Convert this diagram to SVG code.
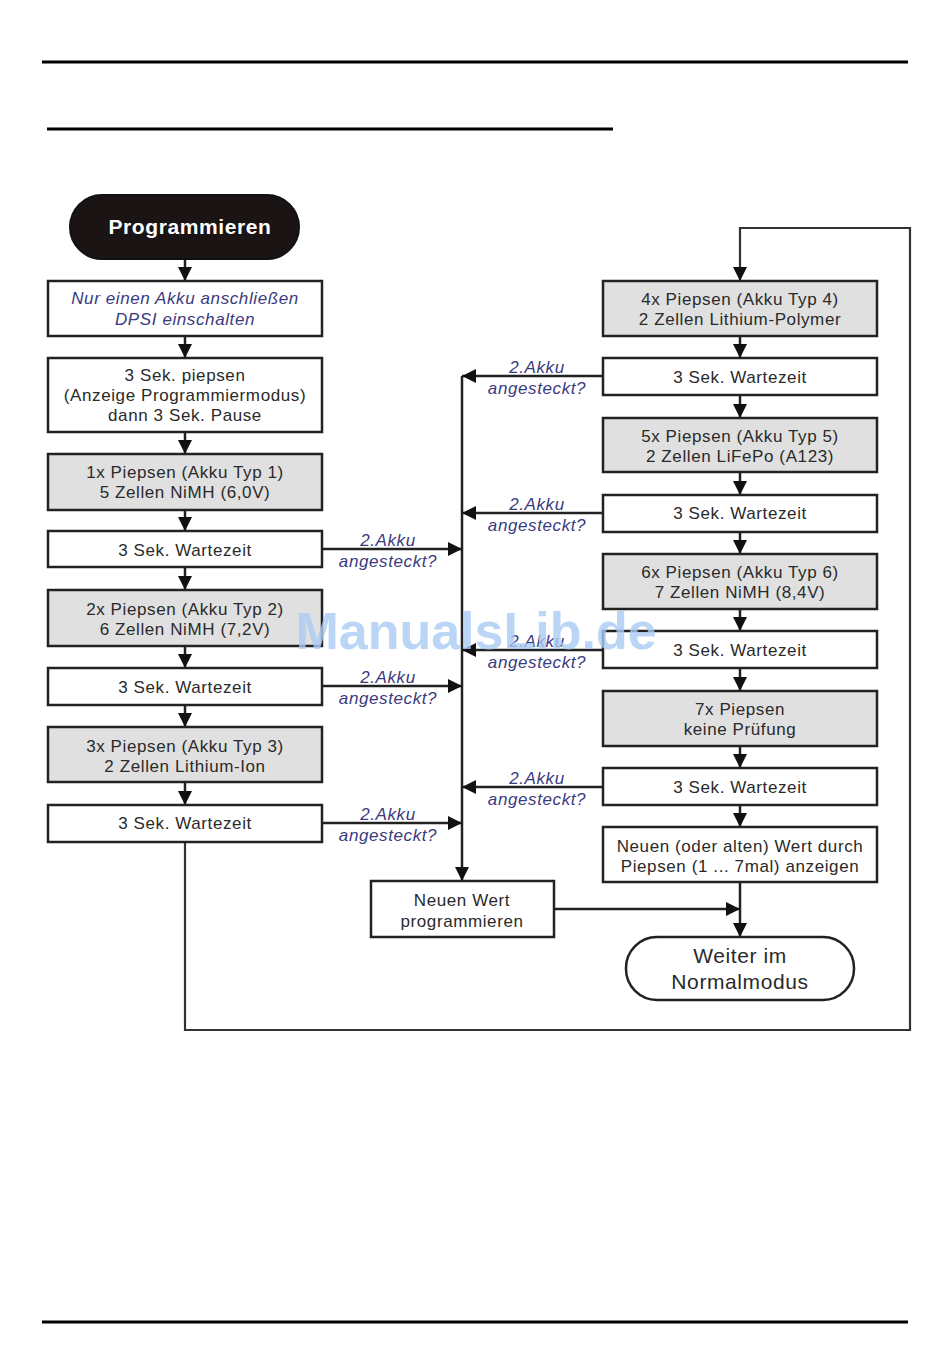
<svg xmlns="http://www.w3.org/2000/svg" width="950" height="1368" viewBox="0 0 950 1368">
<defs>
<style>
.box{fill:#ffffff;stroke:#222;stroke-width:2.5}
.gray{fill:#e0e0e0;stroke:#222;stroke-width:2.5}
.t{font-family:"Liberation Sans",Arial,sans-serif;font-size:17px;letter-spacing:0.6px;fill:#2a2a2a;text-anchor:middle}
.lbl{font-family:"Liberation Sans",Arial,sans-serif;font-size:17px;letter-spacing:0.6px;font-style:italic;fill:#3a3a80;text-anchor:middle}
.big{font-family:"Liberation Sans",Arial,sans-serif;font-size:21px;letter-spacing:0.6px;fill:#2a2a2a;text-anchor:middle}
.ln{fill:none;stroke:#222;stroke-width:2.5}
.rule{stroke:#000;stroke-width:3}
</style>
<marker id="ah" markerUnits="userSpaceOnUse" markerWidth="14" markerHeight="14" refX="14" refY="7" orient="auto">
<path d="M0,0 L14,7 L0,14 z" fill="#111"/>
</marker>
</defs>
<rect width="950" height="1368" fill="#fff"/>
<line class="rule" x1="42" y1="62" x2="908" y2="62"/>
<line class="rule" x1="47" y1="129" x2="613" y2="129"/>
<line class="rule" x1="42" y1="1322" x2="908" y2="1322"/>

<g id="connectors">
<line class="ln" x1="185" y1="259" x2="185" y2="281" marker-end="url(#ah)"/>
<line class="ln" x1="185" y1="336" x2="185" y2="358" marker-end="url(#ah)"/>
<line class="ln" x1="185" y1="432" x2="185" y2="454" marker-end="url(#ah)"/>
<line class="ln" x1="185" y1="510" x2="185" y2="531" marker-end="url(#ah)"/>
<line class="ln" x1="185" y1="567" x2="185" y2="590" marker-end="url(#ah)"/>
<line class="ln" x1="185" y1="646" x2="185" y2="668" marker-end="url(#ah)"/>
<line class="ln" x1="185" y1="705" x2="185" y2="727" marker-end="url(#ah)"/>
<line class="ln" x1="185" y1="782" x2="185" y2="805" marker-end="url(#ah)"/>
<path d="M185,842 V1030 H910 V228 H740 V281" fill="none" stroke="#333" stroke-width="2.2" marker-end="url(#ah)"/>
<line class="ln" x1="740" y1="336" x2="740" y2="358" marker-end="url(#ah)"/>
<line class="ln" x1="740" y1="395" x2="740" y2="418" marker-end="url(#ah)"/>
<line class="ln" x1="740" y1="472" x2="740" y2="495" marker-end="url(#ah)"/>
<line class="ln" x1="740" y1="532" x2="740" y2="554" marker-end="url(#ah)"/>
<line class="ln" x1="740" y1="609" x2="740" y2="631" marker-end="url(#ah)"/>
<line class="ln" x1="740" y1="668" x2="740" y2="691" marker-end="url(#ah)"/>
<line class="ln" x1="740" y1="746" x2="740" y2="768" marker-end="url(#ah)"/>
<line class="ln" x1="740" y1="805" x2="740" y2="827" marker-end="url(#ah)"/>
<line class="ln" x1="740" y1="882" x2="740" y2="937" marker-end="url(#ah)"/>
<line class="ln" x1="554" y1="909" x2="740" y2="909" marker-end="url(#ah)"/>
<line class="ln" x1="462" y1="376" x2="462" y2="881" marker-end="url(#ah)"/>
<line class="ln" x1="322" y1="549" x2="462" y2="549" marker-end="url(#ah)"/>
<line class="ln" x1="322" y1="686" x2="462" y2="686" marker-end="url(#ah)"/>
<line class="ln" x1="322" y1="823" x2="462" y2="823" marker-end="url(#ah)"/>
<line class="ln" x1="603" y1="376" x2="462" y2="376" marker-end="url(#ah)"/>
<line class="ln" x1="603" y1="513" x2="462" y2="513" marker-end="url(#ah)"/>
<line class="ln" x1="603" y1="650" x2="462" y2="650" marker-end="url(#ah)"/>
<line class="ln" x1="603" y1="787" x2="462" y2="787" marker-end="url(#ah)"/>
<text class="lbl" x="388" y="546">2.Akku</text><text class="lbl" x="388" y="567">angesteckt?</text>
<text class="lbl" x="388" y="683">2.Akku</text><text class="lbl" x="388" y="704">angesteckt?</text>
<text class="lbl" x="388" y="820">2.Akku</text><text class="lbl" x="388" y="841">angesteckt?</text>
<text class="lbl" x="537" y="373">2.Akku</text><text class="lbl" x="537" y="394">angesteckt?</text>
<text class="lbl" x="537" y="510">2.Akku</text><text class="lbl" x="537" y="531">angesteckt?</text>
<text class="lbl" x="537" y="647">2.Akku</text><text class="lbl" x="537" y="668">angesteckt?</text>
<text class="lbl" x="537" y="784">2.Akku</text><text class="lbl" x="537" y="805">angesteckt?</text>
</g>

<g id="start">
<rect x="70" y="195" width="229" height="64" rx="32" fill="#1a1414" stroke="#111" stroke-width="2"/>
<text x="190" y="234" font-family="Liberation Sans,Arial,sans-serif" font-size="21" letter-spacing="0.6" font-weight="bold" fill="#fff" text-anchor="middle">Programmieren</text>
</g>
<g id="n1"><rect class="box" x="48" y="281" width="274" height="55"/>
<text class="lbl" x="185" y="304">Nur einen Akku anschließen</text><text class="lbl" x="185" y="325">DPSI einschalten</text></g>
<g id="n2"><rect class="box" x="48" y="358" width="274" height="74"/>
<text class="t" x="185" y="381">3 Sek. piepsen</text><text class="t" x="185" y="401">(Anzeige Programmiermodus)</text><text class="t" x="185" y="421">dann 3 Sek. Pause</text></g>
<g id="n3"><rect class="gray" x="48" y="454" width="274" height="56"/>
<text class="t" x="185" y="478">1x Piepsen (Akku Typ 1)</text><text class="t" x="185" y="498">5 Zellen NiMH (6,0V)</text></g>
<g id="n4"><rect class="box" x="48" y="531" width="274" height="36"/>
<text class="t" x="185" y="556">3 Sek. Wartezeit</text></g>
<g id="n5"><rect class="gray" x="48" y="590" width="274" height="56"/>
<text class="t" x="185" y="615">2x Piepsen (Akku Typ 2)</text><text class="t" x="185" y="635">6 Zellen NiMH (7,2V)</text></g>
<g id="n6"><rect class="box" x="48" y="668" width="274" height="37"/>
<text class="t" x="185" y="693">3 Sek. Wartezeit</text></g>
<g id="n7"><rect class="gray" x="48" y="727" width="274" height="55"/>
<text class="t" x="185" y="752">3x Piepsen (Akku Typ 3)</text><text class="t" x="185" y="772">2 Zellen Lithium-Ion</text></g>
<g id="n8"><rect class="box" x="48" y="805" width="274" height="37"/>
<text class="t" x="185" y="829">3 Sek. Wartezeit</text></g>

<g id="r1"><rect class="gray" x="603" y="281" width="274" height="55"/>
<text class="t" x="740" y="305">4x Piepsen (Akku Typ 4)</text><text class="t" x="740" y="325">2 Zellen Lithium-Polymer</text></g>
<g id="r2"><rect class="box" x="603" y="358" width="274" height="37"/>
<text class="t" x="740" y="383">3 Sek. Wartezeit</text></g>
<g id="r3"><rect class="gray" x="603" y="418" width="274" height="54"/>
<text class="t" x="740" y="442">5x Piepsen (Akku Typ 5)</text><text class="t" x="740" y="462">2 Zellen LiFePo (A123)</text></g>
<g id="r4"><rect class="box" x="603" y="495" width="274" height="37"/>
<text class="t" x="740" y="519">3 Sek. Wartezeit</text></g>
<g id="r5"><rect class="gray" x="603" y="554" width="274" height="55"/>
<text class="t" x="740" y="578">6x Piepsen (Akku Typ 6)</text><text class="t" x="740" y="598">7 Zellen NiMH (8,4V)</text></g>
<g id="r6"><rect class="box" x="603" y="631" width="274" height="37"/>
<text class="t" x="740" y="656">3 Sek. Wartezeit</text></g>
<g id="r7"><rect class="gray" x="603" y="691" width="274" height="55"/>
<text class="t" x="740" y="715">7x Piepsen</text><text class="t" x="740" y="735">keine Prüfung</text></g>
<g id="r8"><rect class="box" x="603" y="768" width="274" height="37"/>
<text class="t" x="740" y="793">3 Sek. Wartezeit</text></g>
<g id="r9"><rect class="box" x="603" y="827" width="274" height="55"/>
<text class="t" x="740" y="852">Neuen (oder alten) Wert durch</text><text class="t" x="740" y="872">Piepsen (1 ... 7mal) anzeigen</text></g>
<g id="prog"><rect class="box" x="371" y="881" width="183" height="56"/>
<text class="t" x="462" y="906">Neuen Wert</text><text class="t" x="462" y="927">programmieren</text></g>
<g id="end"><rect class="box" x="626" y="937" width="228" height="63" rx="31"/>
<text class="big" x="740" y="963">Weiter im</text><text class="big" x="740" y="989">Normalmodus</text></g>

<text x="476" y="649" font-family="Liberation Sans,Arial,sans-serif" font-size="52" font-weight="bold" fill="#a9cbf2" fill-opacity="0.8" text-anchor="middle">ManualsLib.de</text>
</svg>
